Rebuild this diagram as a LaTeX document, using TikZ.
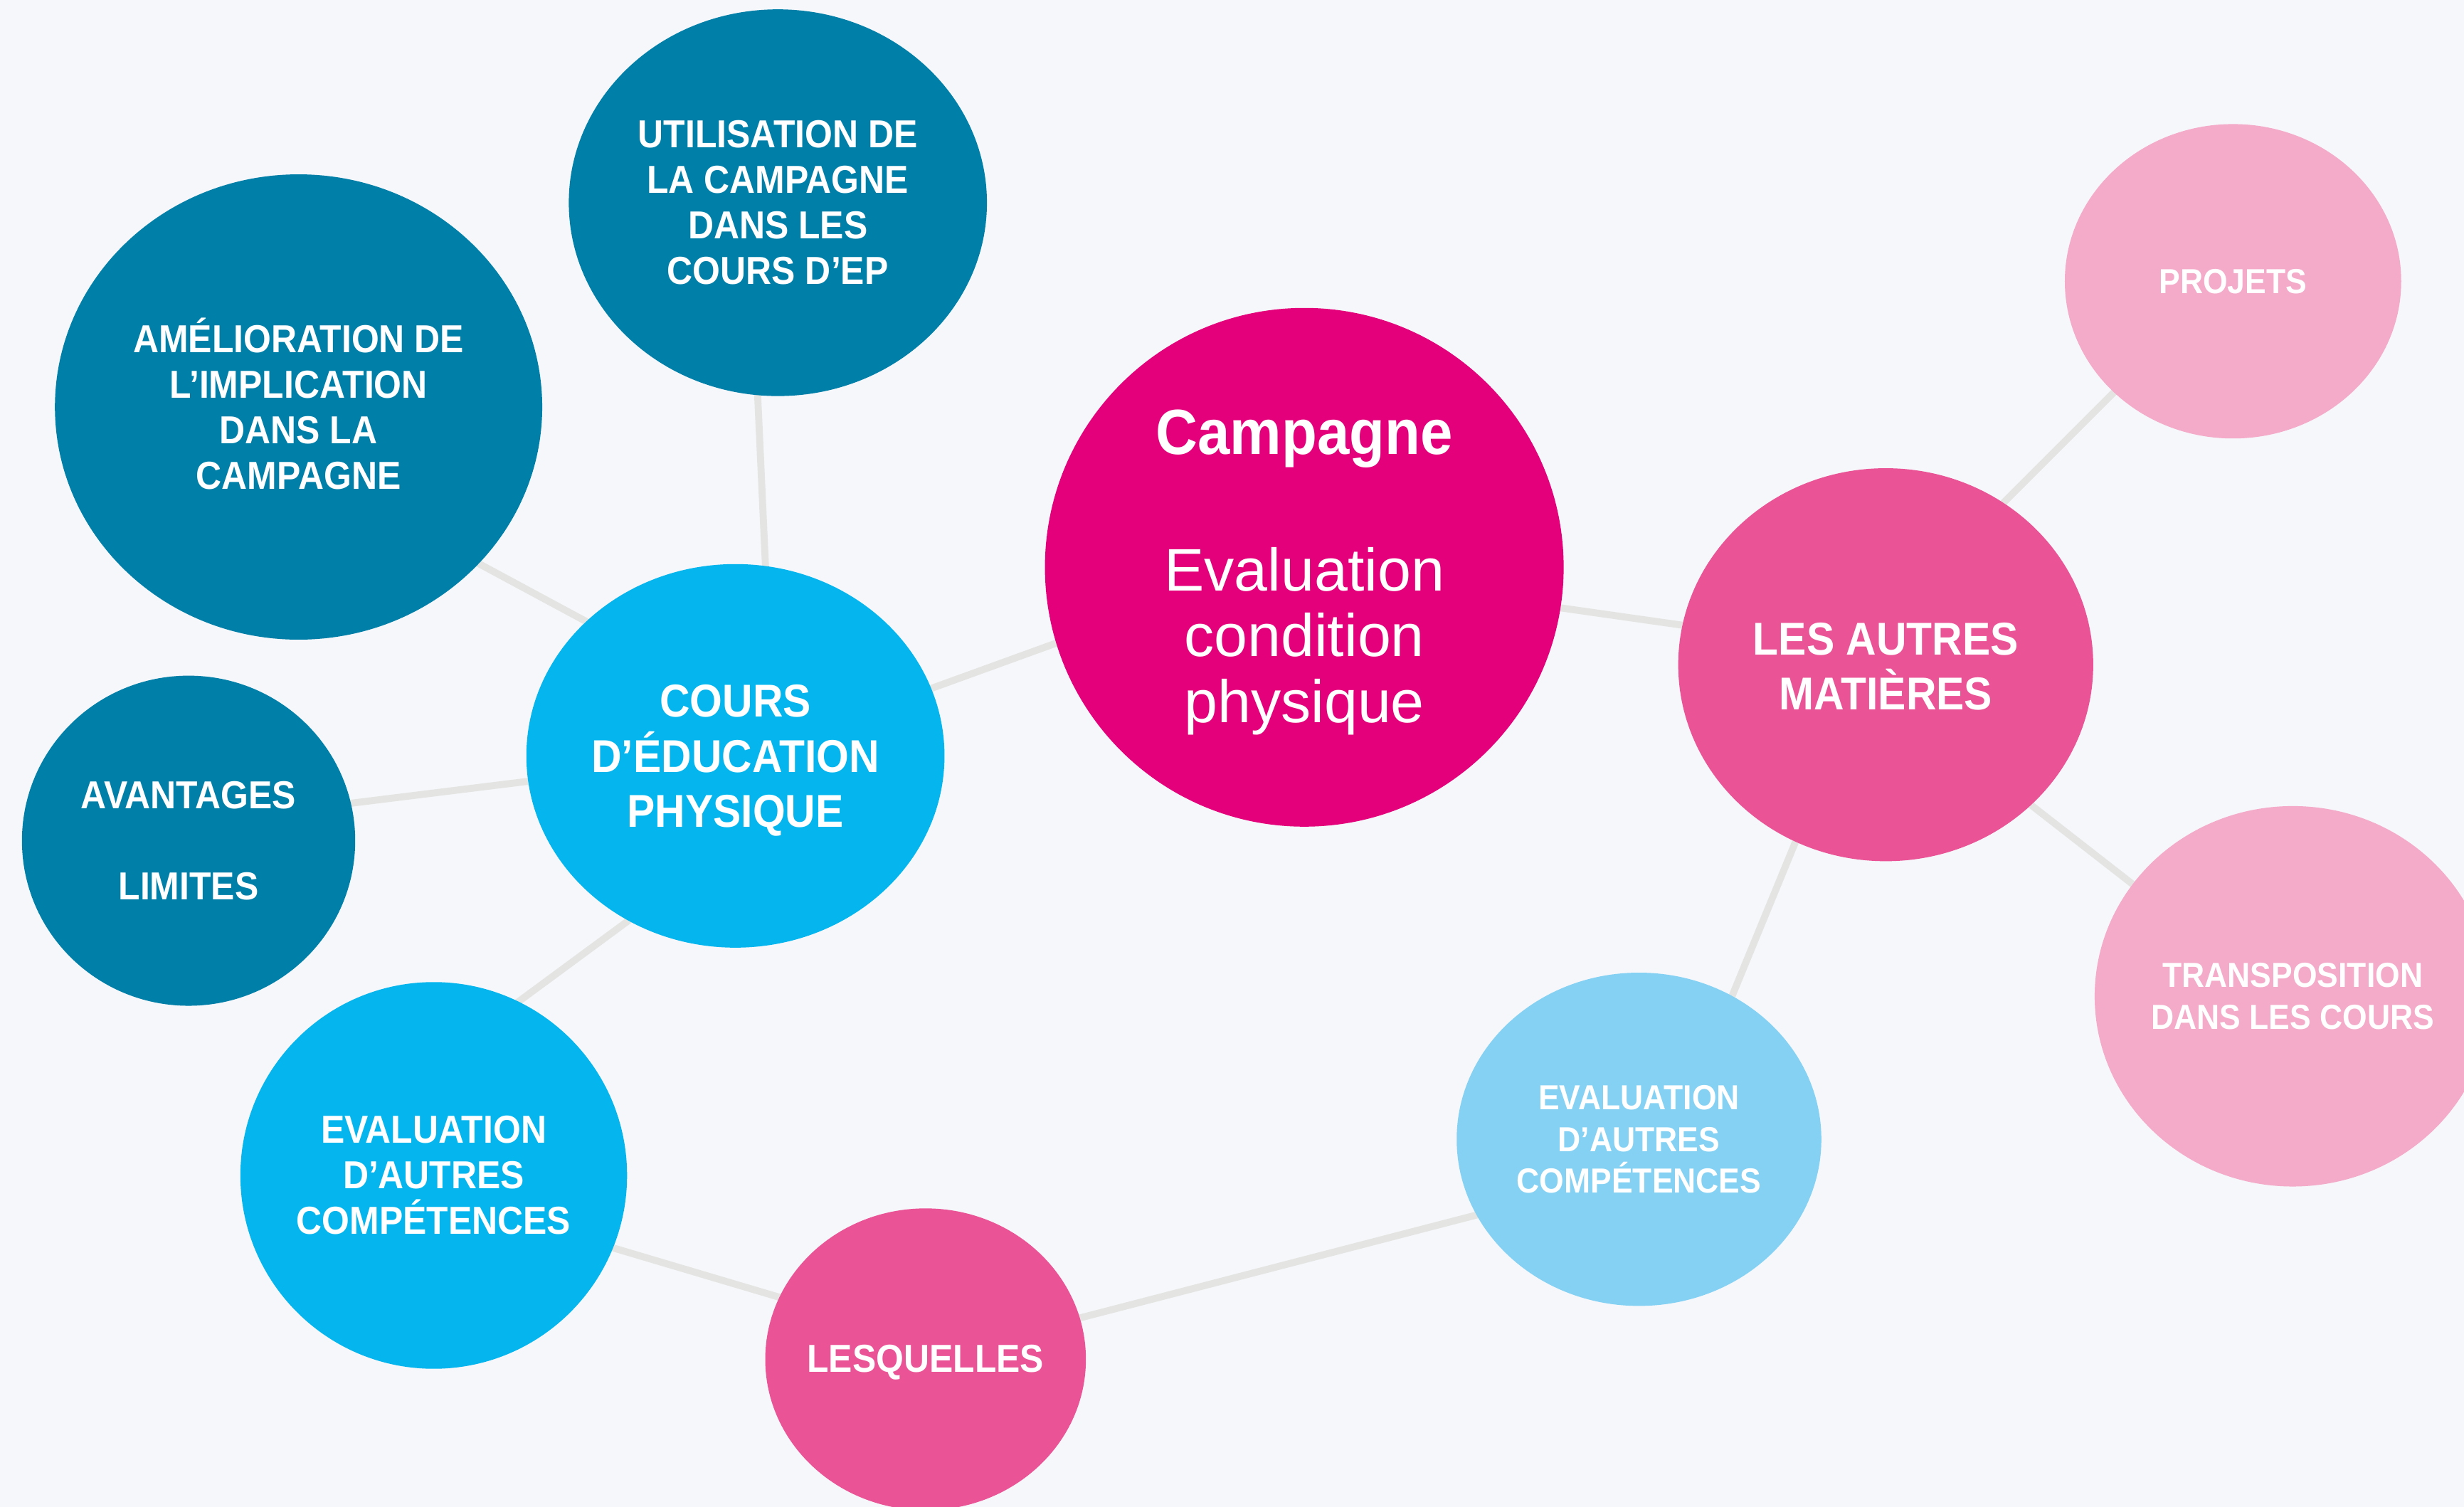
\documentclass[tikz,border=0pt]{standalone}
\usepackage{fontspec}
\setmainfont{Liberation Sans}[FakeStretch=0.91]
\newfontfamily\evalfont{Liberation Sans}
\usetikzlibrary{shapes.geometric}
\pgfdeclarelayer{bgfill}
\pgfdeclarelayer{lines}
\pgfsetlayers{bgfill,lines,main}
\definecolor{bgc}{HTML}{F5F7FA}
\definecolor{linec}{HTML}{E4E4E2}
\definecolor{tealc}{HTML}{007FA8}
\definecolor{cyanc}{HTML}{04B5EE}
\definecolor{lblue}{HTML}{84D1F4}
\definecolor{magc}{HTML}{E3007A}
\definecolor{pinkc}{HTML}{EA5395}
\definecolor{lpink}{HTML}{F4AAC9}
\def\u{0.6284pt}
\begin{document}
\begin{tikzpicture}[x=0.022086cm,y=-0.022086cm,
  bubble/.style={ellipse,draw=none,inner sep=0pt,outer sep=0pt},
  link/.style={line width=2.8pt,draw=linec,shorten <=-8pt,shorten >=-8pt},
  txt/.style={text=white,align=center,inner sep=0pt},
  big/.style={txt,font=\bfseries\fontsize{18.4}{22}\selectfont},
  mid/.style={txt,font=\bfseries\fontsize{15.6}{18.2}\selectfont},
  small/.style={txt,font=\bfseries\fontsize{13.9}{16.6}\selectfont}]
\useasboundingbox (0,0) rectangle (1568,959);
\begin{pgfonlayer}{bgfill}
\fill[bgc] (0,0) rectangle (1568,959);
\end{pgfonlayer}
\clip (0,0) rectangle (1568,959);
% bubbles
\node[bubble,fill=magc,minimum width=330*\u,minimum height=330*\u] (camp) at (830,361) {};
\node[bubble,fill=pinkc,minimum width=264*\u,minimum height=250*\u] (autres) at (1200,423) {};
\node[bubble,fill=lpink,minimum width=214*\u,minimum height=200*\u] (projets) at (1421,179) {};
\node[bubble,fill=lpink,minimum width=252*\u,minimum height=242*\u] (transpo) at (1459,634) {};
\node[bubble,fill=lblue,minimum width=232*\u,minimum height=212*\u] (evalR) at (1043,725) {};
\node[bubble,fill=pinkc,minimum width=204*\u,minimum height=192*\u] (lesq) at (589,865) {};
\node[bubble,fill=cyanc,minimum width=246*\u,minimum height=246*\u] (evalL) at (276,748) {};
\node[bubble,fill=cyanc,minimum width=266*\u,minimum height=244*\u] (cours) at (468,481) {};
\node[bubble,fill=tealc,minimum width=212*\u,minimum height=210*\u] (avant) at (120,535) {};
\node[bubble,fill=tealc,minimum width=310*\u,minimum height=296*\u] (amel) at (190,259) {};
\node[bubble,fill=tealc,minimum width=266*\u,minimum height=246*\u] (util) at (495,129) {};
% connectors
\begin{pgfonlayer}{lines}
\draw[link] (camp.197.4) -- (cours.19.9);
\draw[link] (camp.351) -- (autres.169.1);
\draw[link] (autres.54.5) -- (projets.223);
\draw[link] (autres.316.5) -- (transpo.145.7);
\draw[link] (autres.243) -- (evalR.57.3);
\draw[link] (evalR.205) -- (lesq.15.3);
\draw[link] (lesq.157.9) -- (evalL.338.6);
\draw[link] (evalL.64.1) -- (cours.237.1);
\draw[link] (cours.187.8) -- (avant.13.3);
\draw[link] (cours.138.7) -- (amel.319.4);
\draw[link] (cours.81.1) -- (util.264.4);
\end{pgfonlayer}
% texts
\node[txt,anchor=base,font=\bfseries\fontsize{25.5}{30}\selectfont] (campt) at (830,289) {Campagne};
\node[txt,font=\evalfont\fontsize{24}{26.4}\selectfont] (campe) at (830,408) {Evaluation\\condition\\physique};
\node[big] (autrest) at (1200,424) {LES AUTRES\\MATIÈRES};
\node[small] (projetst) at (1421,179) {PROJETS};
\node[small] (transpot) at (1459,634) {TRANSPOSITION\\DANS LES COURS};
\node[small] (evalRt) at (1043,725) {EVALUATION\\D’AUTRES\\COMPÉTENCES};
\node[mid] (lesqt) at (589,867) {LESQUELLES};
\node[mid] (evalLt) at (276,748) {EVALUATION\\D’AUTRES\\COMPÉTENCES};
\node[big] (courst) at (468,484) {COURS\\D’ÉDUCATION\\PHYSIQUE};
\node[mid] (avantt) at (120,535) {AVANTAGES\\[18.2pt]LIMITES};
\node[mid] (amelt) at (190,257) {AMÉLIORATION DE\\L’IMPLICATION\\DANS LA\\CAMPAGNE};
\node[mid] (utilt) at (495,129) {UTILISATION DE\\LA CAMPAGNE\\DANS LES\\COURS D’EP};
\end{tikzpicture}
\end{document}
